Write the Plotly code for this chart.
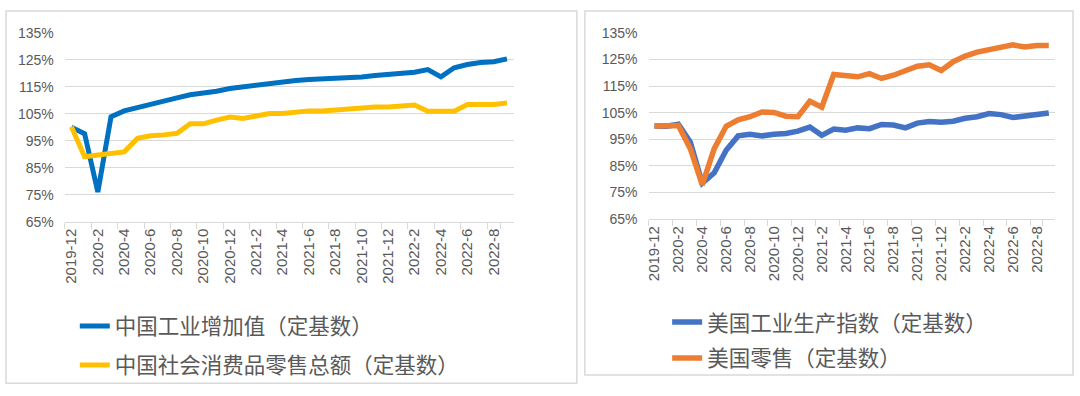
import plotly.graph_objects as go

categories = ["2019-12"] + [f"2020-{m}" for m in range(1, 13)] + [f"2021-{m}" for m in range(1, 13)] + [f"2022-{m}" for m in range(1, 10)]
tick_labels = categories[::2]

cn_industry = [100.0, 97.6, 76.0, 103.9, 106.1, 107.2, 108.7, 109.6, 110.9, 112.1, 112.7, 113.4,
               114.4, 115.0, 115.5, 116.4, 117.0, 117.4, 117.7, 117.9, 118.2, 118.4, 118.7, 119.2,
               119.6, 120.1, 120.4, 121.4, 118.7, 122.1, 123.3, 124.0, 124.3, 125.4]
cn_retail = [100.2, 89.1, 89.7, 90.5, 90.9, 95.9, 96.9, 97.2, 97.8, 101.3, 101.3, 102.7,
             103.8, 103.3, 104.2, 105.1, 105.1, 105.8, 106.1, 106.1, 106.5, 106.5, 107.2, 107.5,
             107.5, 108.1, 108.3, 106.0, 106.0, 106.0, 108.5, 108.5, 108.5, 109.0]
us_ip = [100.0, 99.9, 100.7, 93.9, 78.5, 82.4, 90.9, 96.3, 96.9, 96.3, 96.9, 97.2,
         98.1, 99.6, 96.5, 98.9, 98.4, 99.3, 99.0, 100.6, 100.4, 99.3, 101.1, 101.7,
         101.4, 101.8, 102.9, 103.5, 104.7, 104.3, 103.2, 103.8, 104.2, 104.9]
us_retail = [100.0, 99.9, 100.2, 91.5, 77.9, 91.5, 99.9, 102.3, 103.5, 105.3, 105.1, 103.7,
             103.5, 109.3, 107.1, 119.4, 119.1, 118.5, 119.7, 117.9, 119.1, 120.6, 122.5, 123.0,
             120.9, 124.2, 126.3, 127.8, 128.7, 129.1, 130.5, 129.7, 130.3, 130.3]

names = ["中国工业增加值（定基数）", "中国社会消费品零售总额（定基数）", "美国工业生产指数（定基数）", "美国零售（定基数）"]
colors = ["#0070C0", "#FFC000", "#4472C4", "#ED7D31"]

W, H = 1080, 396
TXT = "#595959"
GRID = "#D9D9D9"
YTICKFONT = dict(family="Liberation Sans, Arial, Noto Sans CJK SC", size=14, color=TXT)
XTICKFONT = dict(family="Liberation Sans, Arial, Noto Sans CJK SC", size=15, color=TXT)
LEGFONT = dict(family="Noto Sans CJK SC, Liberation Sans", size=21.5, color=TXT)

fig = go.Figure()
fig.add_trace(go.Scatter(x=categories, y=cn_industry, name=names[0], mode="lines",
                         line=dict(color=colors[0], width=5), xaxis="x", yaxis="y",
                         legend="legend", legendgroup="a"))
fig.add_trace(go.Scatter(x=categories, y=cn_retail, name=names[1], mode="lines",
                         line=dict(color=colors[1], width=5), xaxis="x", yaxis="y",
                         legend="legend", legendgroup="b"))
fig.add_trace(go.Scatter(x=categories, y=us_ip, name=names[2], mode="lines",
                         line=dict(color=colors[2], width=5.5), xaxis="x2", yaxis="y2",
                         legend="legend2", legendgroup="c"))
fig.add_trace(go.Scatter(x=categories, y=us_retail, name=names[3], mode="lines",
                         line=dict(color=colors[3], width=5.5), xaxis="x2", yaxis="y2",
                         legend="legend2", legendgroup="d"))

def px_x(v):
    return v / W

def px_y(v):
    return 1 - v / H

xcommon = dict(type="category", range=[-0.5, len(categories) - 0.5], tickmode="array",
               tickvals=tick_labels, ticktext=tick_labels, tickangle=-90, tickson="boundaries",
               ticks="outside", ticklen=6, tickcolor=GRID, showline=True, linecolor=GRID, linewidth=1,
               showgrid=False, tickfont=XTICKFONT, fixedrange=True)
ycommon = dict(range=[65, 135], tick0=65, dtick=10, ticksuffix="%", showgrid=True, gridcolor=GRID,
               gridwidth=1, zeroline=False, showline=False, tickfont=YTICKFONT, ticks="",
               ticklabelstandoff=10, fixedrange=True)

fig.update_layout(
    width=W, height=H, margin=dict(l=0, r=0, t=0, b=0),
    paper_bgcolor="white", plot_bgcolor="white",
    xaxis=dict(domain=[px_x(62), px_x(512)], anchor="y", **xcommon),
    yaxis=dict(domain=[px_y(222.7), px_y(26)], anchor="x", **ycommon),
    xaxis2=dict(domain=[px_x(647.3), px_x(1054.7)], anchor="y2", **xcommon),
    yaxis2=dict(domain=[px_y(220), px_y(26)], anchor="x2", **ycommon),
    legend=dict(x=px_x(72), y=px_y(310), xanchor="left", yanchor="top", font=LEGFONT,
                bgcolor="rgba(0,0,0,0)", tracegroupgap=8, traceorder="grouped"),
    legend2=dict(x=px_x(666), y=px_y(306), xanchor="left", yanchor="top", font=LEGFONT,
                 bgcolor="rgba(0,0,0,0)", tracegroupgap=5, traceorder="grouped"),
    showlegend=True,
    shapes=[
        dict(type="rect", xref="paper", yref="paper", x0=px_x(3), x1=px_x(575.5), y0=px_y(391), y1=px_y(3),
             line=dict(color="#D9D9D9", width=1.5), fillcolor="rgba(0,0,0,0)", layer="below"),
        dict(type="rect", xref="paper", yref="paper", x0=px_x(583.5), x1=px_x(1073), y0=px_y(382.5), y1=px_y(3),
             line=dict(color="#D9D9D9", width=1.5), fillcolor="rgba(0,0,0,0)", layer="below"),
    ],
)

fig.write_html("out.html", config={"displayModeBar": False},
               post_script="document.body.style.margin='0';document.body.style.padding='0';")
